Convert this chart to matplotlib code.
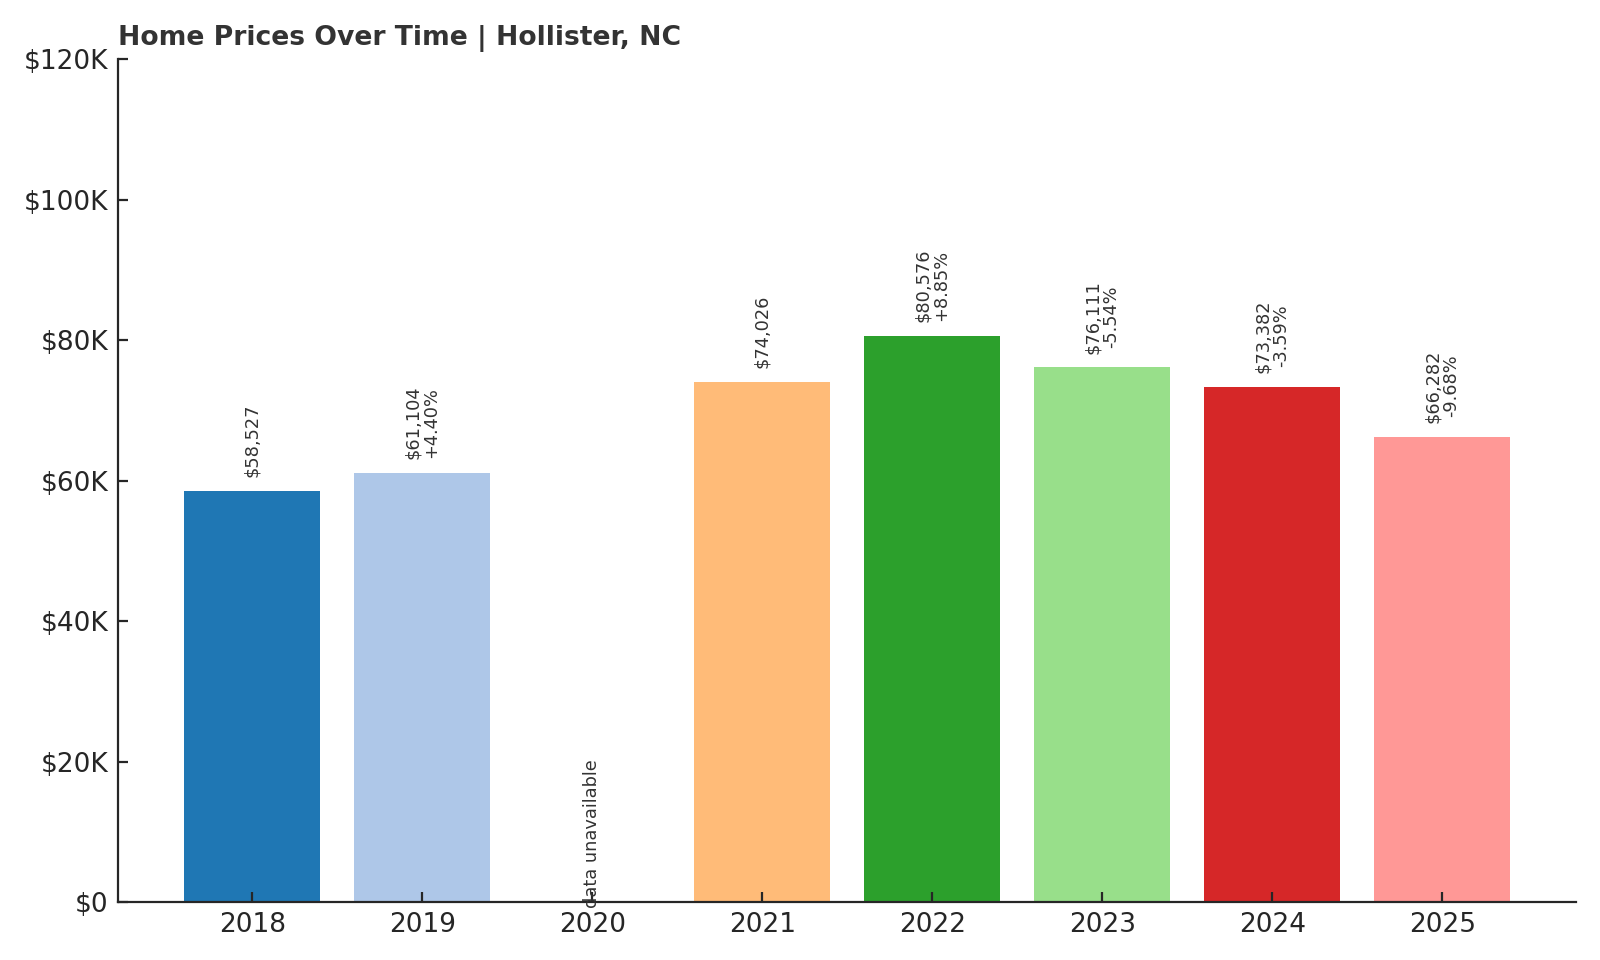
import matplotlib
matplotlib.use("Agg")
import matplotlib.pyplot as plt
from matplotlib.ticker import FuncFormatter

# data
years = ["2018", "2019", "2020", "2021", "2022", "2023", "2024", "2025"]
prices = [58527, 61104, None, 74026, 80576, 76111, 73382, 66282]
changes = [None, "+4.40%", None, None, "+8.85%", "-5.54%", "-3.59%", "-9.68%"]
y_ticks = [0, 20000, 40000, 60000, 80000, 100000, 120000]

cmap = plt.get_cmap("tab20")
bar_colors = [cmap(i) for i in range(len(years))]

fig = plt.figure(figsize=(8, 4.8), dpi=200)
ax = fig.add_axes([0.0738, 0.0604, 0.9115, 0.8779])

x = list(range(len(years)))
heights = [p if p is not None else 0 for p in prices]
ax.bar(x, heights, width=0.8, color=bar_colors)

# labels above bars
for i, p in enumerate(prices):
    if p is None:
        ax.annotate("data unavailable", (i, 0), xytext=(0, -2), textcoords="offset points",
                    rotation=90, ha="center", va="bottom", fontsize=6.4, color="#333333")
        continue
    label = f"${p:,}"
    if changes[i]:
        label += "\n" + changes[i]
    ax.annotate(label, (i, p), xytext=(0, 5), textcoords="offset points",
                rotation=90, ha="center", va="bottom", fontsize=6.4, color="#333333",
                linespacing=1.0)

ax.set_xticks(x)
ax.set_xticklabels(years)
ax.set_yticks(y_ticks)
ax.set_ylim(0, 120000)
ax.yaxis.set_major_formatter(FuncFormatter(lambda v, pos: f"${int(v/1000)}K" if v else "$0"))
ax.tick_params(labelsize=9.5, colors="#262626", direction="in")

for s in ["top", "right"]:
    ax.spines[s].set_visible(False)
for s in ["left", "bottom"]:
    ax.spines[s].set_color("#262626")

ax.set_title("Home Prices Over Time | Hollister, NC", loc="left", fontsize=9.6,
             fontweight="bold", color="#333333", pad=5)

fig.savefig("out.png", dpi=200)
